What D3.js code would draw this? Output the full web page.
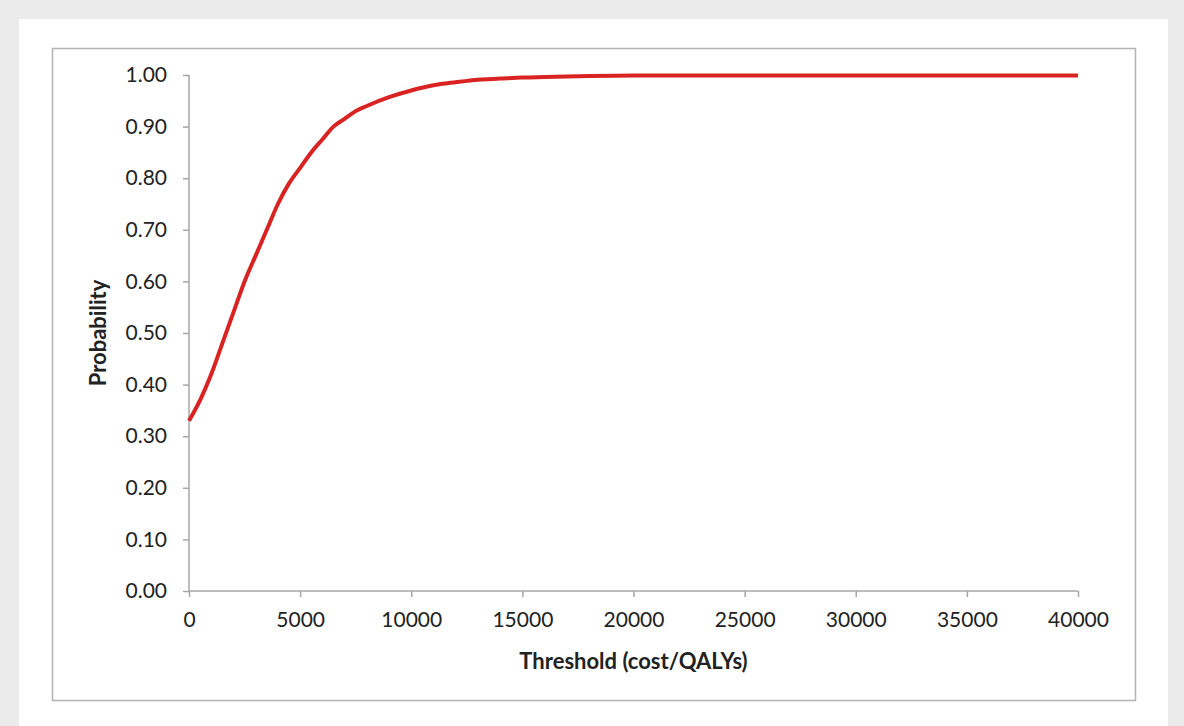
<!DOCTYPE HTML>
<html>
  <head>
    <style>
      body { margin: 0; background: #ebebeb; }
      svg { display: block; }
    </style>
    <script type="text/javascript" src="https://cdnjs.cloudflare.com/ajax/libs/d3/7.8.5/d3.min.js"></script>
  </head>
  <body>
    <div id="graph-holder"></div>
    <script type="text/javascript">
      // threshold (cost/QALYs) and probability
      const thresholds = [0, 500, 1000, 1500, 2000, 2500, 3000, 3500, 4000, 4500, 5000, 5500, 6000, 6500,
                          7000, 7500, 8000, 9000, 10000, 11000, 12000, 13000, 14000, 15000, 16000, 18000,
                          20000, 25000, 30000, 35000, 40000];
      const probs = [0.33, 0.37, 0.42, 0.48, 0.54, 0.60, 0.65, 0.70, 0.75, 0.79, 0.82, 0.85, 0.875, 0.90,
                     0.915, 0.93, 0.94, 0.957, 0.97, 0.98, 0.986, 0.991, 0.993, 0.995, 0.996, 0.998,
                     0.999, 0.999, 0.999, 0.999, 0.999];
      const xTicks = [0, 5000, 10000, 15000, 20000, 25000, 30000, 35000, 40000];
      const yTicks = [0, 0.1, 0.2, 0.3, 0.4, 0.5, 0.6, 0.7, 0.8, 0.9, 1.0];

      const width = 1184;
      const height = 726;
      const font = "Lato, 'Open Sans', sans-serif";

      var svg = d3.select("#graph-holder")
          .append("svg")
          .attr("width", width)
          .attr("height", height);

      // white panel and chart border
      svg.append("rect")
        .attr("x", 19).attr("y", 19)
        .attr("width", 1149).attr("height", height)
        .attr("fill", "#fff");
      svg.append("rect")
        .attr("x", 52.5).attr("y", 48.5)
        .attr("width", 1083).attr("height", 652)
        .attr("fill", "none")
        .attr("stroke", "#b3b3b3")
        .attr("stroke-width", 1.5);

      var xScale = d3.scaleLinear().domain([0, 40000]).range([189, 1078]);
      var yScale = d3.scaleLinear().domain([0, 1]).range([591, 75]);

      var xAxis = svg.append("g")
        .attr("transform", `translate(0, ${yScale(0)})`)
        .call(d3.axisBottom(xScale).tickValues(xTicks).tickFormat(d3.format("d")).tickSize(6).tickPadding(15));
      var yAxis = svg.append("g")
        .attr("transform", `translate(${xScale(0)}, 0)`)
        .call(d3.axisLeft(yScale).tickValues(yTicks).tickFormat(d3.format(".2f")).tickSize(6).tickPadding(16));

      [xAxis, yAxis].forEach(function(ax){
        ax.select(".domain").attr("stroke", "#a6a6a6").attr("stroke-width", 1.5);
        ax.selectAll(".tick line").attr("stroke", "#a6a6a6").attr("stroke-width", 1.5);
        ax.selectAll(".tick text")
          .attr("fill", "#222")
          .style("font-family", font)
          .style("font-size", "21px");
      });
      // excel-style axes: no outer ticks
      xAxis.select(".domain").attr("d", `M${xScale(0)},0H${xScale(40000)}`);
      yAxis.select(".domain").attr("d", `M0,${yScale(1)}V${yScale(0)}`);

      svg.append("text")
        .attr("x", (xScale(0) + xScale(40000)) / 2)
        .attr("y", 669)
        .attr("text-anchor", "middle")
        .style("font-family", font)
        .style("font-size", "22px")
        .style("font-weight", "bold")
        .attr("fill", "#222")
        .text("Threshold (cost/QALYs)");

      svg.append("text")
        .attr("transform", `translate(106, ${(yScale(0) + yScale(1)) / 2}) rotate(-90)`)
        .attr("text-anchor", "middle")
        .style("font-family", font)
        .style("font-size", "22px")
        .style("font-weight", "bold")
        .attr("fill", "#222")
        .text("Probability");

      var line = d3.line()
        .curve(d3.curveMonotoneX)
        .x(function(d, i){ return xScale(thresholds[i]); })
        .y(function(d){ return yScale(d); });

      svg.append("path")
        .datum(probs)
        .attr("fill", "none")
        .attr("stroke", "#d92323")
        .attr("stroke-width", 4)
        .attr("stroke-linejoin", "round")
        .attr("d", line);
    </script>
  </body>
</html>
